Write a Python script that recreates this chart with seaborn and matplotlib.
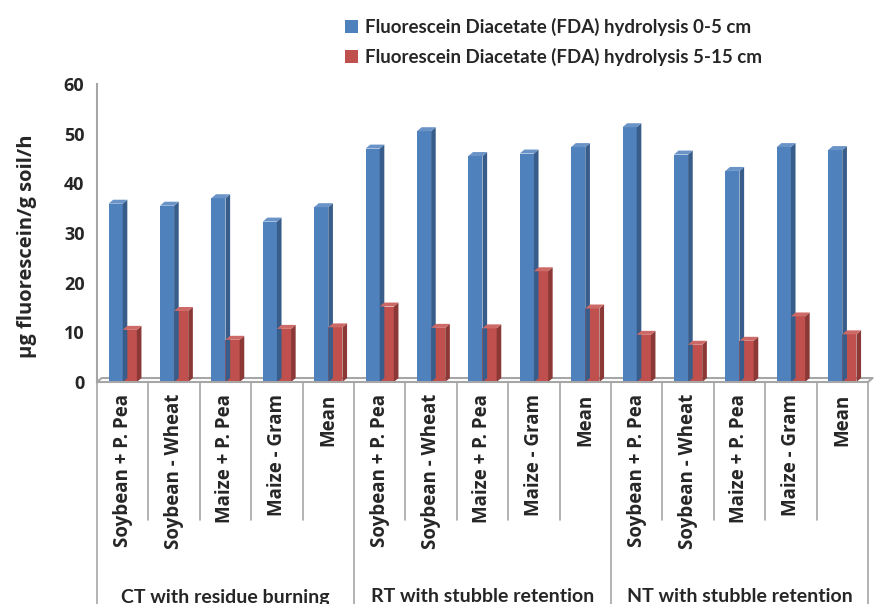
import matplotlib
matplotlib.use("Agg")
import matplotlib.pyplot as plt
import numpy as np
import pandas as pd
import seaborn as sns
from matplotlib.patches import Polygon
from matplotlib.transforms import blended_transform_factory

crops = ["Soybean + P. Pea", "Soybean - Wheat", "Maize + P. Pea", "Maize - Gram", "Mean"]
groups = ["CT with residue burning", "RT with stubble retention", "NT with stubble retention"]
series = [
    "Fluorescein Diacetate (FDA) hydrolysis 0-5 cm",
    "Fluorescein Diacetate (FDA) hydrolysis 5-15 cm",
]
fda_0_5 = [35.9, 35.5, 37.0, 32.3, 35.2,
           47.0, 50.5, 45.5, 46.0, 47.3,
           51.3, 45.8, 42.5, 47.3, 46.7]
fda_5_15 = [10.5, 14.3, 8.5, 10.7, 11.0,
            15.2, 10.9, 10.8, 22.3, 14.8,
            9.5, 7.5, 8.3, 13.2, 9.6]

colors = ["#4F81BD", "#C0504D"]
side_colors = ["#385D8A", "#8C3836"]
top_colors = ["#6A94C8", "#CD6966"]

n_cat = len(groups) * len(crops)
slots = [f"{g}|{c}" for g in groups for c in crops]
df = pd.DataFrame({
    "slot": slots * 2,
    "value": fda_0_5 + fda_5_15,
    "series": [series[0]] * n_cat + [series[1]] * n_cat,
})

sns.set_theme(style="white")
plt.rcParams["font.family"] = ["Open Sans", "DejaVu Sans"]

fig = plt.figure(figsize=(8.78, 6.04), dpi=100)
ax = fig.add_axes([97 / 878, 1 - 382 / 604, (868 - 97) / 878, (382 - 84) / 604])

sns.barplot(data=df, x="slot", y="value", hue="series", order=slots,
            hue_order=series, palette=colors, width=0.55, saturation=1,
            edgecolor="none", linewidth=0, ax=ax, legend=True)

# fake 3-D look: side and top faces built from each drawn bar
dx, dy = 0.09, 0.8
for i, cont in enumerate(ax.containers):
    for p in cont.patches:
        x0, w, h = p.get_x(), p.get_width(), p.get_height()
        side = Polygon([(x0 + w, 0), (x0 + w + dx, dy), (x0 + w + dx, h + dy), (x0 + w, h)],
                       closed=True, facecolor=side_colors[i], edgecolor="none", zorder=p.get_zorder())
        top = Polygon([(x0, h), (x0 + dx, h + dy), (x0 + w + dx, h + dy), (x0 + w, h)],
                      closed=True, facecolor=top_colors[i], edgecolor="none", zorder=p.get_zorder())
        ax.add_patch(side)
        ax.add_patch(top)

ax.set_xlim(-0.5, n_cat - 0.5)
ax.set_ylim(0, 60)
ax.set_yticks(np.arange(0, 61, 10))
ax.tick_params(axis="y", labelsize=13, length=5, color="#A0A0A0", width=1.2, pad=4)
for t in ax.get_yticklabels():
    t.set_fontweight("bold")
ax.set_ylabel("µg fluorescein/g soil/h", fontsize=14.5, fontweight="bold")
ax.yaxis.set_label_coords(-0.078, 0.456)
ax.set_xlabel("")
ax.set_xticks([])

for s in ["top", "right"]:
    ax.spines[s].set_visible(False)
for s in ["left", "bottom"]:
    ax.spines[s].set_color("#A6A6A6")
    ax.spines[s].set_linewidth(1.5)

# back edge of the floor
ax.plot([-0.5, -0.5 + dx, n_cat - 0.5 + dx, n_cat - 0.5], [0, dy, dy, 0],
        color="#A6A6A6", lw=1.5, clip_on=False, zorder=0.5)

# category and group labels under the axis
trans = blended_transform_factory(ax.transData, fig.transFigure)
for k, slot in enumerate(slots):
    ax.text(k, 1 - 394 / 604, slot.split("|")[1], rotation=90, ha="center", va="top",
            fontsize=13.5, fontweight="bold", transform=trans)
for b in range(n_cat + 1):
    x = b - 0.5
    y_end = 0 if b % len(crops) == 0 else 1 - 520 / 604
    ax.plot([x, x], [1 - 382 / 604, y_end], color="#A6A6A6", lw=1.2,
            transform=trans, clip_on=False)
for gi, g in enumerate(groups):
    xc = gi * len(crops) + (len(crops) - 1) / 2
    ax.text(xc, 1 - 597 / 604, g, ha="center", va="center", fontsize=14,
            fontweight="bold", family=["Lato", "DejaVu Sans"], transform=trans)

handles, labels = ax.get_legend_handles_labels()
ax.get_legend().remove()
fig.legend(handles, labels, loc="upper left", bbox_to_anchor=(328 / 878, 1 - 1 / 604),
           frameon=False, handlelength=0.7, handleheight=0.7, handletextpad=0.35,
           labelspacing=0.65, prop={"family": ["Lato", "DejaVu Sans"], "weight": "bold", "size": 13.5})

fig.savefig("out.png", dpi=100)
